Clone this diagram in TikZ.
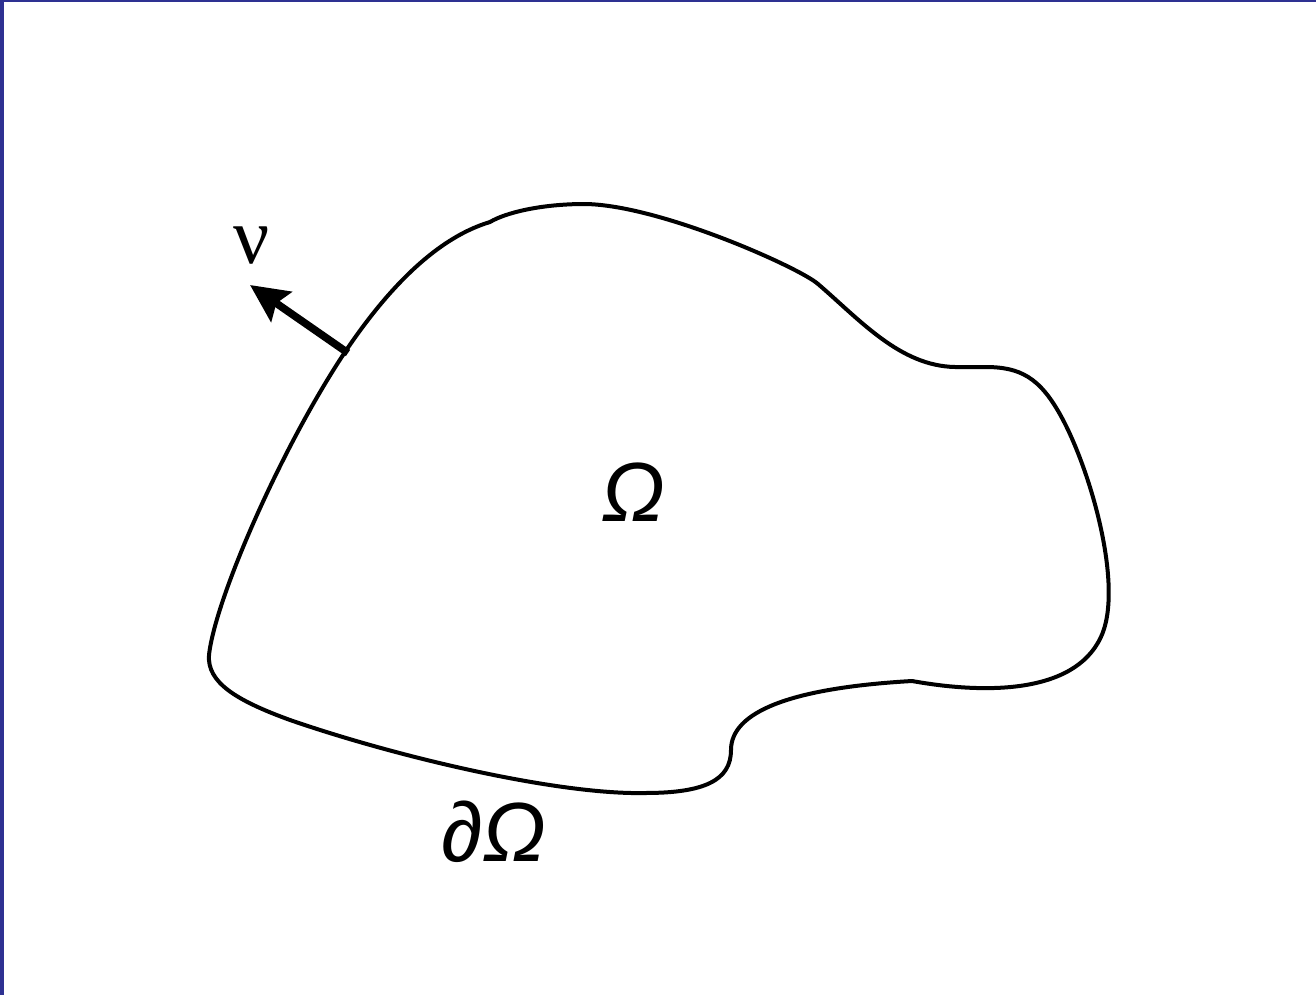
\documentclass[tikz,border=0pt]{standalone}
\usepackage{fontspec}
\usetikzlibrary{arrows.meta}
\newfontfamily\lsans{Liberation Sans}
\newfontfamily\lserif{Liberation Serif}
\definecolor{frameblue}{RGB}{46,49,146}
\tikzset{
  boundary/.style={line width=2pt, black, line join=round},
  normalarrow/.style={line width=3.8pt, -{Stealth[length=19pt,width=18pt,inset=3pt]}},
  biglabel/.style={inner sep=0pt, font=\fontsize{42}{46}\selectfont\lsans\itshape},
}
\begin{document}
\begin{tikzpicture}[x=0.5pt,y=-0.5pt]
\useasboundingbox (0,0) rectangle (1316,995);
\fill[white] (0,0) rectangle (1316,995);
\fill[frameblue] (0,0) rectangle (4,995);
\fill[frameblue] (0,0) rectangle (1316,2);
% boundary of the domain
\draw[boundary]
 (345,352) .. controls (280,450) and (215,600) .. (209,655)
 .. controls (207,682) and (235,700) .. (290,720)
 .. controls (400,758) and (560,795) .. (645,793)
 .. controls (705,793) and (731,780) .. (731,750)
 .. controls (731,712) and (790,688) .. (912,681)
 .. controls (990,695) and (1080,693) .. (1103,632)
 .. controls (1122,580) and (1090,470) .. (1062,418)
 .. controls (1040,377) and (1020,367) .. (985,367)
 -- (955,367)
 .. controls (900,366) and (860,320) .. (818,284)
 .. controls (800,268) and (660,205) .. (585,204)
 .. controls (540,204) and (505,213) .. (490,222)
 .. controls (430,240) and (380,300) .. (345,352) -- cycle;
\coordinate (base) at (348,353);
\coordinate (tip) at (250,285);
\draw[normalarrow] (base) -- (tip);
\node[inner sep=0pt, font=\fontsize{40}{44}\selectfont\lserif] (nu) at (252,246) {ν};
\node[biglabel] (omega) at (633,492) {Ω};
\node[biglabel] (domega) at (494,832) {∂Ω};
\end{tikzpicture}
\end{document}
